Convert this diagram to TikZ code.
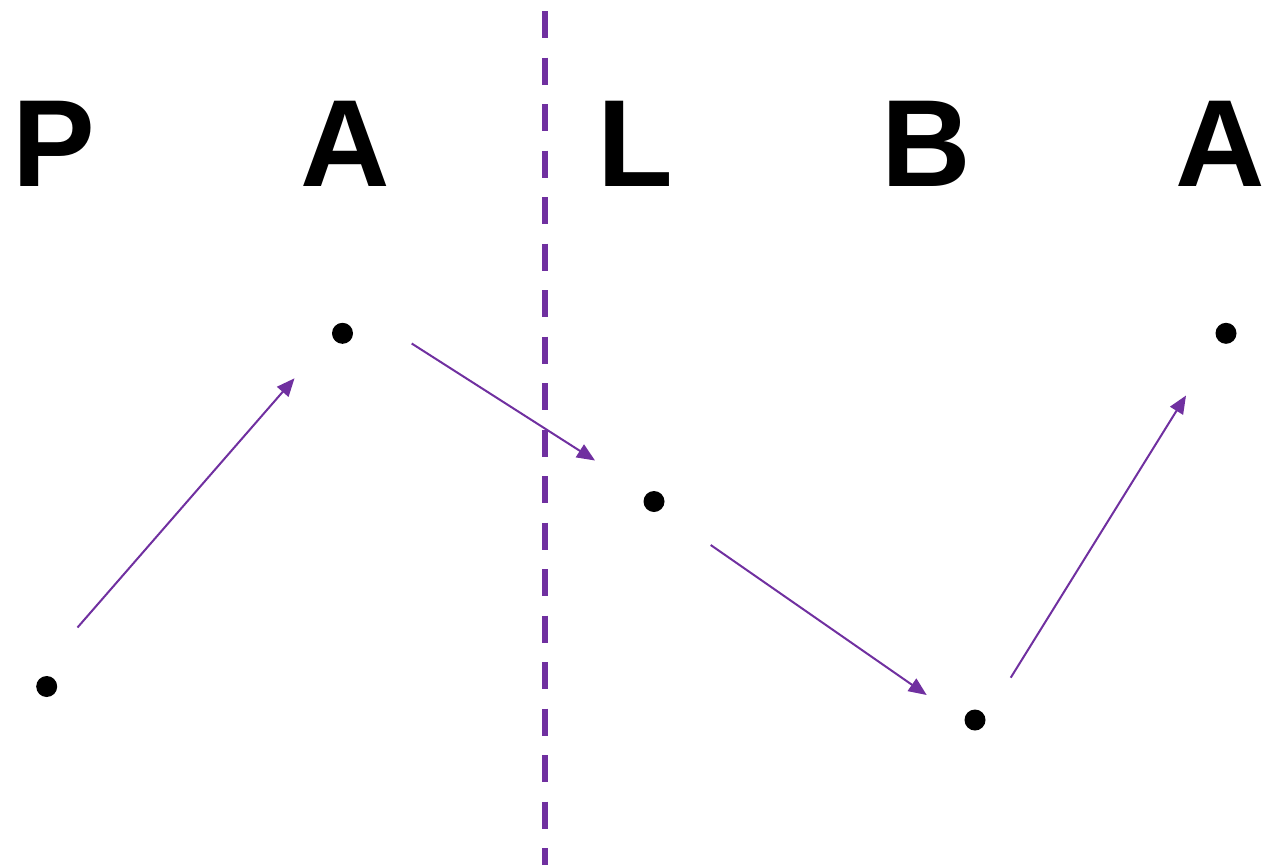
\documentclass[tikz,border=0pt]{standalone}
\usepackage{fontspec}
\setmainfont{Liberation Sans}
\usetikzlibrary{arrows.meta}
\definecolor{pur}{HTML}{7030A0}
\begin{document}
\begin{tikzpicture}[x=1pt,y=-1pt,
  letter/.style={inner sep=0pt,anchor=base,font=\fontsize{124}{124}\selectfont\bfseries},
  dot/.style={circle,fill=black,inner sep=0pt,minimum size=21pt},
  arr/.style={pur,line width=2pt,-{Triangle[length=18pt,width=15pt]}},
  divider/.style={pur,line width=6pt,dash pattern=on 27pt off 19.5pt}]
\useasboundingbox (0,0) rectangle (1266,865);
\node[letter] (l1) at (54,186) {P};
\node[letter] (l2) at (345.5,186) {A};
\node[letter] (l3) at (635,186) {L};
\node[letter] (l4) at (926,186) {B};
\node[letter] (l5) at (1220,186) {A};
\coordinate (top) at (545,11);
\coordinate (bot) at (545,865);
\draw[divider] (top) -- (bot);
\node[dot] (d1) at (46.7,686.5) {};
\node[dot] (d2) at (342.5,333.3) {};
\node[dot] (d3) at (654,501.5) {};
\node[dot] (d4) at (975,720) {};
\node[dot] (d5) at (1226,333.3) {};
\coordinate (s1) at (77.5,627.5);
\coordinate (e1) at (294.5,378.3);
\coordinate (s2) at (411.7,343.5);
\coordinate (e2) at (595,460.5);
\coordinate (s3) at (710.7,545);
\coordinate (e3) at (926.7,695);
\coordinate (s4) at (1010.7,677.7);
\coordinate (e4) at (1186,395.5);
\draw[arr] (s1) -- (e1);
\draw[arr] (s2) -- (e2);
\draw[arr] (s3) -- (e3);
\draw[arr] (s4) -- (e4);
\end{tikzpicture}
\end{document}
